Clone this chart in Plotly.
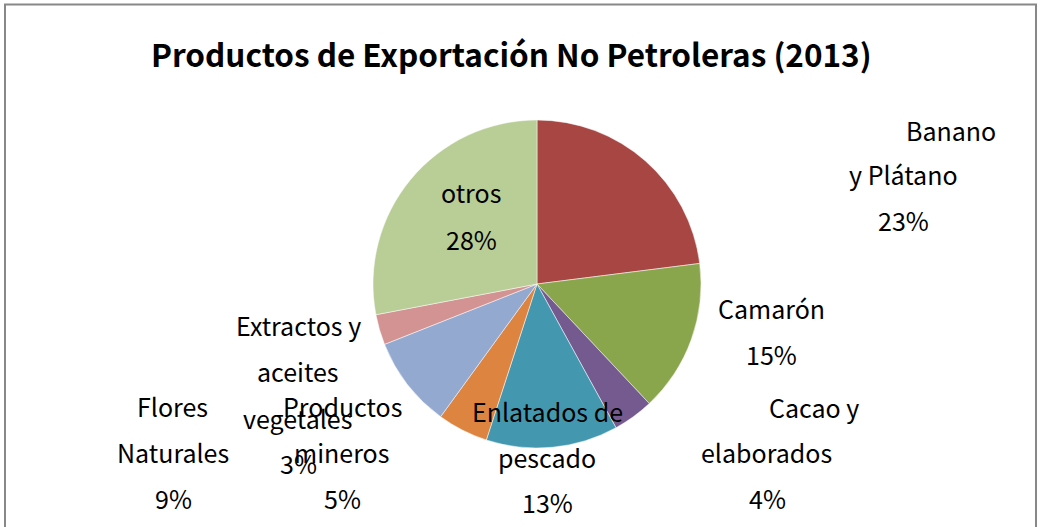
import plotly.graph_objects as go

W, H = 1041, 527

# data
categories = [
    "Banano y Plátano",
    "Camarón",
    "Cacao y elaborados",
    "Enlatados de pescado",
    "Productos mineros",
    "Flores Naturales",
    "Extractos y aceites vegetales",
    "otros",
]
shares = [23, 15, 4, 13, 5, 9, 3, 28]
slice_colors = ["#A84644", "#8AA64C", "#745A8F", "#4398B0",
                "#DD8540", "#94A9CF", "#D39392", "#B9CD97"]
# how each label wraps in the original
label_lines = [
    ["Banano", "y Plátano"],
    ["Camarón"],
    ["Cacao y", "elaborados"],
    ["Enlatados de", "pescado"],
    ["Productos", "mineros"],
    ["Flores", "Naturales"],
    ["Extractos y", "aceites", "vegetales"],
    ["otros"],
]

# label layout (pixel centres of each text line)
label_pos = [
    [(951, 130), (903, 174), (903, 220)],
    [(771, 308), (771, 354)],
    [(814, 407), (766, 452), (767, 498)],
    [(547, 411), (547, 457), (547, 502)],
    [(342, 406), (341, 452), (342, 498)],
    [(172, 406), (173, 452), (173, 498)],
    [(298, 325), (298, 371), (297, 418), (298, 463)],
    [(471, 192), (471, 239)],
]

FONT = "Noto Sans CJK KR, Malgun Gothic, sans-serif"
cx, cy, r = 537, 284, 164

fig = go.Figure(go.Pie(
    labels=categories,
    values=shares,
    sort=False,
    direction="clockwise",
    rotation=0,
    marker=dict(colors=slice_colors, line=dict(color="white", width=0.5)),
    textinfo="none",
    hoverinfo="label+percent",
    showlegend=False,
    domain=dict(x=[(cx - r) / W, (cx + r) / W],
                y=[(H - cy - r) / H, (H - cy + r) / H]),
))

annotations = []
for lines, val, pos in zip(label_lines, shares, label_pos):
    for txt, (px, py) in zip(lines + [f"{val}%"], pos):
        annotations.append(dict(
            text=txt, x=px / W, y=1 - py / H, xref="paper", yref="paper",
            xanchor="center", yanchor="middle", showarrow=False,
            font=dict(family=FONT, size=25, color="black"),
        ))

# chart title
annotations.append(dict(
    text="<b>Productos de Exportación No Petroleras (2013)</b>",
    x=511 / W, y=1 - 53 / H, xref="paper", yref="paper",
    xanchor="center", yanchor="middle", showarrow=False,
    font=dict(family=FONT, size=31.5, color="black"),
))

fig.update_layout(
    width=W, height=H,
    margin=dict(l=0, r=0, t=0, b=0),
    paper_bgcolor="white",
    plot_bgcolor="white",
    annotations=annotations,
    shapes=[dict(type="rect", xref="paper", yref="paper",
                 x0=5 / W, x1=1036 / W, y0=-0.05, y1=1 - 4.5 / H,
                 line=dict(color="#888888", width=2))],
)

# drop the default page margin so the figure sits at the window corner
fig.write_html("out.html", config={"displayModeBar": False},
               post_script="document.body.style.margin='0px';")
